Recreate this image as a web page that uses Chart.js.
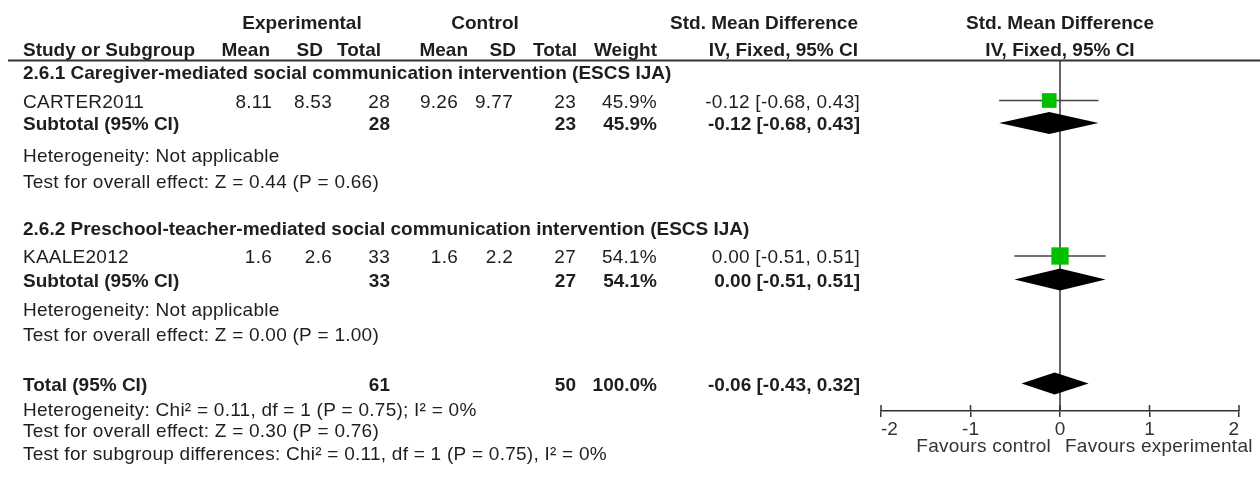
<!DOCTYPE html>
<html>
<head>
<meta charset="utf-8">
<script src="https://cdn.jsdelivr.net/npm/chart.js@4/dist/chart.umd.min.js"></script>
<style>
  html, body { margin: 0; padding: 0; background: #fff; overflow: hidden; }
  canvas { display: block; }
</style>
</head>
<body>
<canvas id="forest" width="1260" height="479"></canvas>
<script>
// ---- Data -------------------------------------------------------------
const studies   = ['CARTER2011', 'KAALE2012'];
const subgroups = [
  '2.6.1 Caregiver-mediated social communication intervention (ESCS IJA)',
  '2.6.2 Preschool-teacher-mediated social communication intervention (ESCS IJA)'
];
const expMean  = [8.11, 1.6];
const expSD    = [8.53, 2.6];
const expN     = [28, 33];
const ctlMean  = [9.26, 1.6];
const ctlSD    = [9.77, 2.2];
const ctlN     = [23, 27];
const weight   = [45.9, 54.1];
const smd      = [-0.12, 0.00];
const smdLow   = [-0.68, -0.51];
const smdHigh  = [0.43, 0.51];

// pooled subgroup results (one study per subgroup)
const subExpN   = [28, 33];
const subCtlN   = [23, 27];
const subWeight = [45.9, 54.1];
const subSmd    = [-0.12, 0.00];
const subLow    = [-0.68, -0.51];
const subHigh   = [0.43, 0.51];
const subHet    = ['Heterogeneity: Not applicable', 'Heterogeneity: Not applicable'];
const subTest   = ['Test for overall effect: Z = 0.44 (P = 0.66)',
                   'Test for overall effect: Z = 0.00 (P = 1.00)'];

// overall result
const totalExpN   = 61;
const totalCtlN   = 50;
const totalWeight = 100.0;
const totalSmd    = -0.06;
const totalLow    = -0.43;
const totalHigh   = 0.32;
const totalNotes  = [
  'Heterogeneity: Chi\u00B2 = 0.11, df = 1 (P = 0.75); I\u00B2 = 0%',
  'Test for overall effect: Z = 0.30 (P = 0.76)',
  'Test for subgroup differences: Chi\u00B2 = 0.11, df = 1 (P = 0.75), I\u00B2 = 0%'
];

const axisTicks  = [-2, -1, 0, 1, 2];
const favours    = ['Favours control', 'Favours experimental'];

// ---- Layout (rows in table lines, 0 = top rule, 14 = axis) ------------
const ROW = {
  head1: -1.58, head2: -0.50,
  title: [0.42, 6.68],
  study: [1.58, 7.80],
  sub:   [2.48, 8.74],
  het:   [3.76, 9.92],
  test:  [4.80, 10.92],
  total: 12.90,
  notes: [13.92, 14.74, 15.68]
};
const COL = {
  left: 23,
  expMean: 272, expSD: 332, expN: 390,
  ctlMean: 458, ctlSD: 513, ctlN: 576,
  weight: 657, smd: 860
};
const HEAD = {
  expMean: 270, expSD: 323, expN: 381,
  ctlMean: 468, ctlSD: 516, ctlN: 577,
  weight: 657, smd: 858,
  expCenter: 302, ctlCenter: 485
};
const PLOT_LEFT = 881, PLOT_RIGHT = 1239, RULE_TOP = 61, AXIS_Y = 411, RULE_LEFT = 8;
const FAMILY = "'Liberation Sans', Arial, Helvetica, sans-serif";
const FONT_PX = 19;
const CAP_HALF = 7;
const INK = '#1e1e1e';
const LINE = '#333333';
const GREEN = '#00c000';
const SQUARE_PX_PER_PCT = 0.32;
const DIAMOND_H = 22;

Chart.defaults.font.family = FAMILY;

const fmtCI = (e, l, h) => `${e.toFixed(2)} [${l.toFixed(2)}, ${h.toFixed(2)}]`;

function text(ctx, s, x, y, align, bold, color) {
  ctx.font = (bold ? 'bold ' : '') + FONT_PX + 'px ' + FAMILY;
  ctx.letterSpacing = bold ? '0px' : '0.25px';
  ctx.textAlign = align;
  ctx.textBaseline = 'alphabetic';
  ctx.fillStyle = color || INK;
  ctx.fillText(s, x, y + CAP_HALF);
}

function diamond(ctx, xs, ys, est, lo, hi, row) {
  const yc = ys.getPixelForValue(row);
  ctx.beginPath();
  ctx.moveTo(xs.getPixelForValue(lo), yc);
  ctx.lineTo(xs.getPixelForValue(est), yc - DIAMOND_H / 2);
  ctx.lineTo(xs.getPixelForValue(hi), yc);
  ctx.lineTo(xs.getPixelForValue(est), yc + DIAMOND_H / 2);
  ctx.closePath();
  ctx.fillStyle = '#000';
  ctx.fill();
}

const forestPlugin = {
  id: 'forestTable',
  beforeDatasetsDraw(chart) {
    const { ctx, chartArea: a, scales: { x, y } } = chart;
    ctx.save();
    ctx.strokeStyle = LINE;
    // header rule across the table and plot
    ctx.lineWidth = 2;
    ctx.beginPath();
    ctx.moveTo(RULE_LEFT, a.top - 0.5);
    ctx.lineTo(chart.width, a.top - 0.5);
    ctx.stroke();
    // line of no effect
    const x0 = x.getPixelForValue(0);
    ctx.lineWidth = 1.5;
    ctx.beginPath();
    ctx.moveTo(x0, a.top);
    ctx.lineTo(x0, a.bottom);
    ctx.stroke();
    // confidence interval whiskers
    ctx.strokeStyle = '#444';
    studies.forEach((s, i) => {
      const yy = y.getPixelForValue(ROW.study[i]);
      ctx.beginPath();
      ctx.moveTo(x.getPixelForValue(smdLow[i]), yy);
      ctx.lineTo(x.getPixelForValue(smdHigh[i]), yy);
      ctx.stroke();
    });
    ctx.restore();
  },
  afterDatasetsDraw(chart) {
    const { ctx, scales: { x, y } } = chart;
    ctx.save();
    subgroups.forEach((g, i) => diamond(ctx, x, y, subSmd[i], subLow[i], subHigh[i], ROW.sub[i]));
    diamond(ctx, x, y, totalSmd, totalLow, totalHigh, ROW.total);
    ctx.restore();
  },
  afterDraw(chart) {
    const { ctx, chartArea: a, scales: { x, y } } = chart;
    ctx.save();
    // upper halves of the axis ticks
    ctx.strokeStyle = LINE;
    ctx.lineWidth = 1.5;
    x.ticks.forEach(t => {
      const px = x.getPixelForValue(t.value);
      ctx.beginPath();
      ctx.moveTo(px, a.bottom - 6);
      ctx.lineTo(px, a.bottom);
      ctx.stroke();
    });
    const x0 = x.getPixelForValue(0);
    const mid = (a.left + a.right) / 2;

    // column headings
    const h1 = y.getPixelForValue(ROW.head1), h2 = y.getPixelForValue(ROW.head2);
    text(ctx, 'Experimental', HEAD.expCenter, h1, 'center', true);
    text(ctx, 'Control', HEAD.ctlCenter, h1, 'center', true);
    text(ctx, 'Std. Mean Difference', HEAD.smd, h1, 'right', true);
    text(ctx, 'Std. Mean Difference', mid, h1, 'center', true);
    text(ctx, 'Study or Subgroup', COL.left, h2, 'left', true);
    text(ctx, 'Mean', HEAD.expMean, h2, 'right', true);
    text(ctx, 'SD', HEAD.expSD, h2, 'right', true);
    text(ctx, 'Total', HEAD.expN, h2, 'right', true);
    text(ctx, 'Mean', HEAD.ctlMean, h2, 'right', true);
    text(ctx, 'SD', HEAD.ctlSD, h2, 'right', true);
    text(ctx, 'Total', HEAD.ctlN, h2, 'right', true);
    text(ctx, 'Weight', HEAD.weight, h2, 'right', true);
    text(ctx, 'IV, Fixed, 95% CI', HEAD.smd, h2, 'right', true);
    text(ctx, 'IV, Fixed, 95% CI', mid, h2, 'center', true);

    // subgroups
    subgroups.forEach((g, i) => {
      text(ctx, g, COL.left, y.getPixelForValue(ROW.title[i]), 'left', true);
      const ys = y.getPixelForValue(ROW.study[i]);
      text(ctx, studies[i], COL.left, ys, 'left', false);
      text(ctx, String(expMean[i]), COL.expMean, ys, 'right', false);
      text(ctx, String(expSD[i]), COL.expSD, ys, 'right', false);
      text(ctx, String(expN[i]), COL.expN, ys, 'right', false);
      text(ctx, String(ctlMean[i]), COL.ctlMean, ys, 'right', false);
      text(ctx, String(ctlSD[i]), COL.ctlSD, ys, 'right', false);
      text(ctx, String(ctlN[i]), COL.ctlN, ys, 'right', false);
      text(ctx, weight[i].toFixed(1) + '%', COL.weight, ys, 'right', false);
      text(ctx, fmtCI(smd[i], smdLow[i], smdHigh[i]), COL.smd, ys, 'right', false);
      const yt = y.getPixelForValue(ROW.sub[i]);
      text(ctx, 'Subtotal (95% CI)', COL.left, yt, 'left', true);
      text(ctx, String(subExpN[i]), COL.expN, yt, 'right', true);
      text(ctx, String(subCtlN[i]), COL.ctlN, yt, 'right', true);
      text(ctx, subWeight[i].toFixed(1) + '%', COL.weight, yt, 'right', true);
      text(ctx, fmtCI(subSmd[i], subLow[i], subHigh[i]), COL.smd, yt, 'right', true);
      text(ctx, subHet[i], COL.left, y.getPixelForValue(ROW.het[i]), 'left', false);
      text(ctx, subTest[i], COL.left, y.getPixelForValue(ROW.test[i]), 'left', false);
    });

    // overall
    const yT = y.getPixelForValue(ROW.total);
    text(ctx, 'Total (95% CI)', COL.left, yT, 'left', true);
    text(ctx, String(totalExpN), COL.expN, yT, 'right', true);
    text(ctx, String(totalCtlN), COL.ctlN, yT, 'right', true);
    text(ctx, totalWeight.toFixed(1) + '%', COL.weight, yT, 'right', true);
    text(ctx, fmtCI(totalSmd, totalLow, totalHigh), COL.smd, yT, 'right', true);
    totalNotes.forEach((n, i) => text(ctx, n, COL.left, y.getPixelForValue(ROW.notes[i]), 'left', false));

    // direction labels under the axis
    const yf = a.bottom + 34;
    text(ctx, favours[0], x0 - 9, yf, 'right', false, '#333');
    text(ctx, favours[1], x0 + 5, yf, 'left', false, '#333');
    ctx.restore();
  }
};

const chart = new Chart(document.getElementById('forest'), {
  type: 'scatter',
  data: {
    datasets: [{
      label: 'Studies',
      data: studies.map((s, i) => ({ x: smd[i], y: ROW.study[i] })),
      pointStyle: 'rect',
      pointRadius: c => weight[c.dataIndex] * SQUARE_PX_PER_PCT / Math.SQRT2,
      pointHoverRadius: c => weight[c.dataIndex] * SQUARE_PX_PER_PCT / Math.SQRT2,
      backgroundColor: GREEN,
      borderColor: GREEN,
      borderWidth: 0
    }]
  },
  options: {
    responsive: false,
    animation: false,
    devicePixelRatio: 1,
    events: [],
    layout: { padding: { left: PLOT_LEFT, right: 1260 - PLOT_RIGHT, top: RULE_TOP, bottom: 37 } },
    plugins: { legend: { display: false }, tooltip: { enabled: false } },
    scales: {
      x: {
        type: 'linear', min: -2, max: 2, position: 'bottom',
        afterBuildTicks: s => { s.ticks = axisTicks.map(v => ({ value: v })); },
        grid: { drawOnChartArea: false, drawTicks: true, tickLength: 6, color: LINE, lineWidth: 1.5 },
        border: { color: LINE, width: 1.5 },
        ticks: {
          align: 'inner', autoSkip: false, maxRotation: 0, padding: 1,
          color: '#333', font: { size: FONT_PX, family: FAMILY },
          callback: v => String(v)
        }
      },
      y: { type: 'linear', min: 0, max: 14, reverse: true, display: false }
    }
  },
  plugins: [forestPlugin]
});

// pin the axis line to its place
const drift = chart.chartArea.bottom - AXIS_Y;
if (Math.abs(drift) > 0.1) {
  chart.options.layout.padding.bottom += drift;
  chart.update();
}
</script>
</body>
</html>
